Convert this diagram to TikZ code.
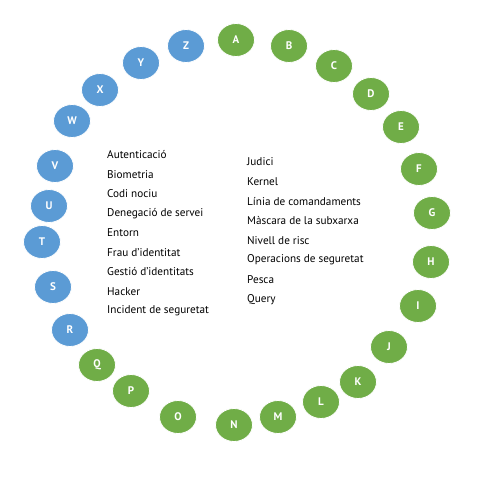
\documentclass[tikz,border=0pt]{standalone}
\usepackage{fontspec}
\setmainfont{PT Sans}
\usepackage{xcolor}
\usetikzlibrary{shapes.geometric}
\definecolor{lettergreen}{HTML}{70AD47}
\definecolor{letterblue}{HTML}{5B9BD5}
\tikzset{
    letterdot/.style={
        ellipse,
        fill=#1,
        draw=white,
        line width=0.8pt,
        minimum width=37pt,
        minimum height=33pt,
        inner sep=0pt,
        text=white,
        font=\bfseries\fontsize{11}{13}\selectfont
    },
    term/.style={
        anchor=west,
        inner sep=0pt,
        font=\fontsize{11.2}{13}\selectfont
    }
}
\begin{document}
\begin{tikzpicture}[x=1pt,y=-1pt]
        \useasboundingbox[fill=white] (0,0) rectangle (479,479);
        % letters round the circle
        \foreach \ltr/\px/\py/\col in {
            A/236/40/lettergreen, B/289/46/lettergreen, C/334/66/lettergreen,
            D/371/94/lettergreen, E/401/127/lettergreen, F/419/169/lettergreen,
            G/432/213/lettergreen, H/431/262/lettergreen, I/418/306/lettergreen,
            J/389/347/lettergreen, K/358/382/lettergreen, L/321/402/lettergreen,
            M/278/417/lettergreen, N/234/425/lettergreen, O/178/417/lettergreen,
            P/131/391/lettergreen, Q/97/365/lettergreen, R/70/330/letterblue,
            S/53/287/letterblue, T/42/242/letterblue, U/49/206/letterblue,
            V/55/166/letterblue, W/72/121/letterblue, X/100/90/letterblue,
            Y/141/63/letterblue, Z/186/46/letterblue}
            \node[letterdot=\col] (dot\ltr) at (\px,\py) {\ltr};
        % glossary, left column
        \foreach \txt [count=\i] in {Autenticació, Biometria, Codi nociu,
            Denegació de servei, Entorn, Frau d’identitat,
            Gestió d’identitats, Hacker, Incident de seguretat}
            \node[term] (left\i) at (107,{155+19.5*(\i-1)}) {\txt};
        % glossary, right column
        \foreach \txt [count=\i] in {Judici, Kernel, Línia de comandaments,
            Màscara de la subxarxa, Nivell de risc, Operacions de seguretat,
            Pesca, Query}
            \node[term] (right\i) at (247,{162+19.6*(\i-1)}) {\txt};
    \end{tikzpicture}
\end{document}
